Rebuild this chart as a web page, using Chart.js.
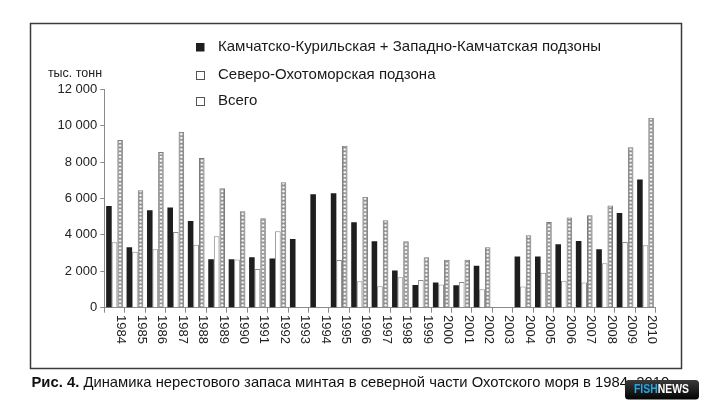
<!DOCTYPE html>
<html lang="ru">
<head>
<meta charset="utf-8">
<title>Нерестовый запас минтая</title>
<script src="https://cdn.jsdelivr.net/npm/chart.js@4.4.0/dist/chart.umd.min.js"></script>
<style>
  html, body { margin: 0; padding: 0; background: #fff; }
  #wrap { position: relative; width: 709px; height: 409px; }
  #chart { position: absolute; left: 0; top: 0; }
</style>
</head>
<body>
<div id="wrap"><canvas id="chart" width="709" height="409"></canvas></div>
<script>
// ── Data ───────────────────────────────────────
const years = ['1984','1985','1986','1987','1988','1989','1990','1991','1992','1993','1994','1995','1996','1997',
               '1998','1999','2000','2001','2002','2003','2004','2005','2006','2007','2008','2009','2010'];
// Камчатско-Курильская + Западно-Камчатская подзоны
const kamchatka = [5590,3320,5350,5510,4760,2660,2660,2770,2710,3780,6230,6290,4690,3650,
                   2040,1250,1380,1230,2310,null,2820,2810,3480,3670,3210,5200,7050];
// Северо-Охотоморская подзона
const northOkhotsk = [3590,3080,3210,4160,3460,3920,2650,2130,4200,null,null,2620,1450,1180,
                      1670,1520,1270,1410,1010,null,1160,1920,1480,1390,2440,3610,3430];
// Всего
const total = [9210,6450,8560,9670,8230,6560,5300,4910,6890,null,null,8900,6100,4800,
               3650,2770,2640,2640,3320,null,3980,4710,4950,5080,5610,8810,10440];
const yTicks = [0,2000,4000,6000,8000,10000,12000];
const legendLabels = ['Камчатско-Курильская + Западно-Камчатская подзоны','Северо-Охотоморская подзона','Всего'];
const unitLabel = 'тыс. тонн';
const captionBold = 'Рис. 4.';
const captionText = ' Динамика нерестового запаса минтая в северной части Охотского моря в 1984–2010';

const FONT = '"Liberation Sans", Arial, sans-serif';
const fmt = v => String(v).replace(/\B(?=(\d{3})+(?!\d))/g, ' ');

// ── Frame, legend, labels, caption ─────────────
const decor = {
  id: 'decor',
  beforeDraw(chart) {
    const c = chart.ctx;
    c.save();
    c.fillStyle = '#fff';
    c.fillRect(0, 0, chart.width, chart.height);
    c.strokeStyle = '#3a3a3a';
    c.lineWidth = 1.5;
    c.strokeRect(30.5, 23.5, 651, 345);
    c.restore();
  },
  afterDatasetsDraw(chart) {
    // dotted fill of the "Всего" bars
    const c = chart.ctx;
    const meta = chart.getDatasetMeta(2);
    c.save();
    meta.data.forEach((el, i) => {
      if (total[i] == null) return;
      const { x, y, base, width } = el.getProps(['x', 'y', 'base', 'width'], true);
      c.save();
      c.beginPath();
      c.rect(x - width / 2 + 1, y + 1, width - 2, base - y - 1);
      c.clip();
      c.fillStyle = '#f4f4f4';
      for (let yy = base - 2; yy > y - 3; yy -= 3.8) {
        c.beginPath();
        c.arc(x, yy, 1.2, 0, Math.PI * 2);
        c.fill();
      }
      c.restore();
    });
    c.restore();
  },
  afterDraw(chart) {
    const c = chart.ctx;
    const xs = chart.scales.x;
    c.save();
    // rotated year labels
    c.fillStyle = '#222';
    c.font = '13px ' + FONT;
    c.textAlign = 'left';
    c.textBaseline = 'middle';
    years.forEach((yr, i) => {
      c.save();
      c.translate(xs.getPixelForValue(i) + 6.5, 315);
      c.rotate(Math.PI / 2);
      c.fillText(yr, 0, 0);
      c.restore();
    });
    // unit label
    c.textAlign = 'center';
    c.font = '12.5px ' + FONT;
    c.fillText(unitLabel, 75, 74);
    // legend
    const ly = [47, 75, 101];
    c.textAlign = 'left';
    c.font = '15px ' + FONT;
    legendLabels.forEach((t, i) => {
      if (i === 0) {
        c.fillStyle = '#1e1e1e';
        c.fillRect(196, ly[i] - 4, 8.5, 8.5);
      } else {
        c.fillStyle = '#fff';
        c.fillRect(196.5, ly[i] - 3.5, 8, 8);
        c.strokeStyle = '#555';
        c.lineWidth = 1;
        c.strokeRect(196.5, ly[i] - 3.5, 8, 8);
      }
      c.fillStyle = '#1a1a1a';
      c.fillText(t, 218, ly[i]);
    });
    // caption, fitted so that "... в 1984" ends under the logo
    c.fillStyle = '#111';
    c.textBaseline = 'alphabetic';
    const bf = 'bold 14.5px ' + FONT, nf = '14.5px ' + FONT;
    c.font = bf; const wb = c.measureText(captionBold).width;
    c.font = nf; const wn = c.measureText(captionText.slice(0, captionText.indexOf('1984') + 4)).width;
    const sx = (628 - 31.5) / (wb + wn);
    c.save();
    c.translate(31.5, 387);
    c.scale(sx, 1);
    c.font = bf; c.fillText(captionBold, 0, 0);
    c.font = nf; c.fillText(captionText, wb, 0);
    c.restore();
    // logo
    const g = c.createLinearGradient(0, 380, 0, 399);
    g.addColorStop(0, '#3a3a3a');
    g.addColorStop(1, '#050505');
    c.fillStyle = g;
    c.beginPath();
    c.roundRect(625, 380, 74, 19.5, 3.5);
    c.fill();
    c.font = 'bold 12px ' + FONT;
    c.textBaseline = 'middle';
    const w1 = c.measureText('FISH').width, w2 = c.measureText('NEWS').width;
    const ls = 55 / (w1 + w2);
    c.save();
    c.translate(634, 390);
    c.scale(ls, 1);
    c.fillStyle = '#22a7ea'; c.fillText('FISH', 0, 0);
    c.fillStyle = '#fff'; c.fillText('NEWS', w1, 0);
    c.restore();
    c.restore();
  }
};

// ── Chart ──────────────────────────────────────
new Chart(document.getElementById('chart').getContext('2d'), {
  type: 'bar',
  data: {
    labels: years,
    datasets: [
      { label: legendLabels[0], data: kamchatka, backgroundColor: '#1e1e1e', borderWidth: 0 },
      { label: legendLabels[1], data: northOkhotsk, backgroundColor: '#fff', borderColor: '#8a8a8a', borderWidth: 1 },
      { label: legendLabels[2], data: total, backgroundColor: '#8f8f8f', borderColor: '#7a7a7a', borderWidth: 1 },
    ]
  },
  options: {
    responsive: false,
    animation: false,
    devicePixelRatio: 1,
    categoryPercentage: 0.82,
    barPercentage: 1.0,
    layout: { padding: { left: 44.3, top: 89.3, right: 53.3, bottom: 91.3 } },
    plugins: { legend: { display: false }, tooltip: { enabled: false } },
    scales: {
      x: {
        ticks: { display: false },
        grid: { drawOnChartArea: false, drawTicks: true, tickLength: 5, color: '#8a8a8a' },
        border: { color: '#8a8a8a', width: 1 },
        afterFit: s => { s.height = 10; }
      },
      y: {
        min: 0, max: 12000,
        afterBuildTicks: s => { s.ticks = yTicks.map(v => ({ value: v })); },
        ticks: { color: '#222', font: { size: 13, family: FONT }, padding: 3, callback: v => fmt(v) },
        grid: { drawOnChartArea: false, tickLength: 4, color: '#8a8a8a' },
        border: { color: '#8a8a8a', width: 1 },
        afterFit: s => { s.width = 60; }
      }
    }
  },
  plugins: [decor]
});
</script>
</body>
</html>
